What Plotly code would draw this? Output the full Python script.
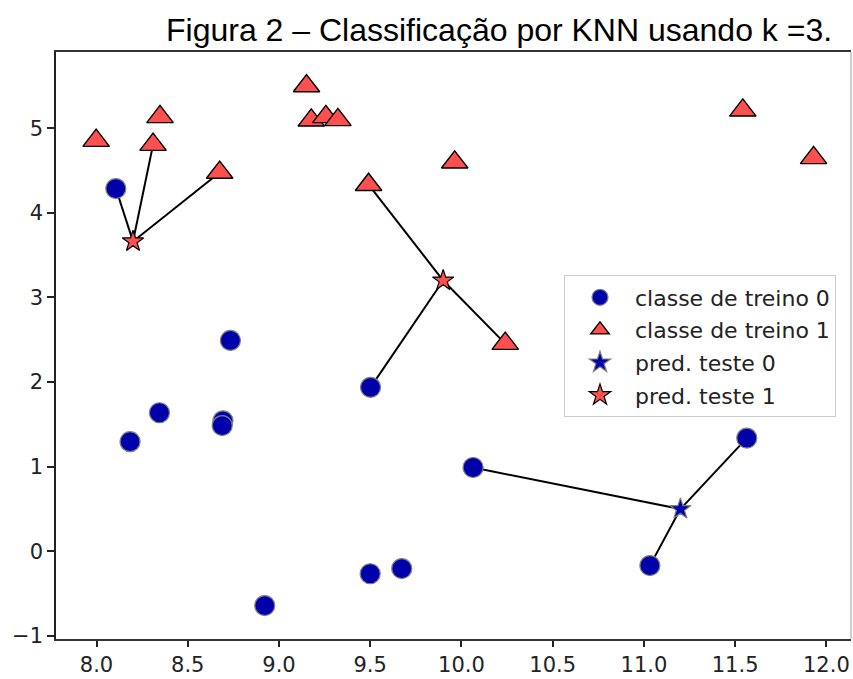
import numpy as np
import plotly.graph_objects as go

# Training data (forge dataset)
train_x = [9.963, 11.033, 11.542, 8.693, 8.106, 8.310, 11.930, 9.673, 8.348, 8.675,
           9.177, 10.240, 8.689, 8.922, 9.491, 9.257, 7.998, 8.184, 8.734, 9.323,
           10.064, 9.500, 8.345, 9.502, 9.151, 11.564]
train_y = [4.597, -0.168, 5.211, 1.543, 4.287, 4.806, 4.649, -0.203, 5.134, 4.476,
           5.093, 2.455, 1.487, -0.640, 4.332, 5.133, 4.853, 1.296, 2.492, 5.098,
           0.991, -0.264, 1.638, 1.938, 5.498, 1.339]
train_cls = [1, 0, 1, 0, 0, 1, 1, 0, 1, 1, 1, 1, 0, 0, 1, 1, 1, 0, 0, 1, 0, 0, 0, 0, 1, 0]

test_x = [8.2, 9.9, 11.2]
test_y = [3.662, 3.2, 0.5]
k_neighbors = 3

title_text = "Figura 2 – Classificação por KNN usando k =3."
legend_names = ["classe de treino 0", "classe de treino 1", "pred. teste 0", "pred. teste 1"]
x_ticks = [8.0, 8.5, 9.0, 9.5, 10.0, 10.5, 11.0, 11.5, 12.0]
y_ticks = [-1, 0, 1, 2, 3, 4, 5]

BLUE = "#0000aa"
RED = "#ff5050"

tx = np.array(train_x); ty = np.array(train_y); tc = np.array(train_cls)
qx = np.array(test_x); qy = np.array(test_y)

# neighbour lines and predictions
line_x, line_y, preds = [], [], []
for px, py in zip(qx, qy):
    d = np.hypot(tx - px, ty - py)
    nn = np.argsort(d)[:k_neighbors]
    for j in nn:
        line_x += [px, tx[j], None]
        line_y += [py, ty[j], None]
    preds.append(int(round(tc[nn].mean())))
preds = np.array(preds)

fig = go.Figure()
fig.add_trace(go.Scatter(x=line_x, y=line_y, mode="lines",
                         line=dict(color="black", width=2), showlegend=False, hoverinfo="skip"))

# test predictions (stars)
for c, col, edge, name in [(0, BLUE, "grey", legend_names[2]), (1, RED, "black", legend_names[3])]:
    m = preds == c
    fig.add_trace(go.Scatter(x=qx[m], y=qy[m], mode="markers", name=name,
                             legendgroup=name, legendrank=3 + c,
                             marker=dict(symbol="star", size=16, color=col,
                                         line=dict(color=edge, width=1.2))))

# training points
fig.add_trace(go.Scatter(x=tx[tc == 0], y=ty[tc == 0], mode="markers", name=legend_names[0],
                         legendgroup=legend_names[0], legendrank=1,
                         marker=dict(symbol="circle", size=20, color=BLUE,
                                     line=dict(color="grey", width=1.2))))
fig.add_trace(go.Scatter(x=tx[tc == 1], y=ty[tc == 1], mode="markers", name=legend_names[1],
                         legendgroup=legend_names[1], legendrank=2,
                         marker=dict(symbol="triangle-up", size=23, color=RED,
                                     line=dict(color="black", width=1.4))))

L, R, T, B = 56, 2, 52, 36
W, H = 853, 679
fig.update_layout(
    width=W, height=H,
    margin=dict(l=L, r=R, t=T, b=B),
    paper_bgcolor="white", plot_bgcolor="white",
    font=dict(family="DejaVu Sans", size=21, color="#222222"),
    showlegend=True,
    legend=dict(x=(564 - L) / (W - L - R), y=(H - B - 277) / (H - T - B),
                xanchor="left", yanchor="top",
                bgcolor="white", bordercolor="#cccccc", borderwidth=1,
                font=dict(family="DejaVu Sans", size=22, color="#222222"),
                traceorder="grouped", tracegroupgap=1, itemwidth=60),
    xaxis=dict(range=[7.778, 12.135], tickvals=x_ticks, ticktext=[f"{v:.1f}" for v in x_ticks],
               showgrid=False, zeroline=False, showline=True, linecolor="#333333", linewidth=1.5,
               mirror=True, ticks="outside", ticklen=6, tickwidth=1.5, tickcolor="#222222"),
    yaxis=dict(range=[-1.035, 5.90], tickvals=y_ticks,
               showgrid=False, zeroline=False, showline=True, linecolor="#222222", linewidth=1.5,
               mirror=False, ticks="outside", ticklen=7, tickwidth=1.5, tickcolor="#222222"),
    shapes=[dict(type="line", xref="paper", yref="paper", x0=1, x1=1, y0=0, y1=1,
                 line=dict(color="#b0b0b0", width=1.2))],
    annotations=[dict(text=title_text, xref="paper", yref="paper",
                      x=(834 - L) / (W - L - R), y=1, xanchor="right", yanchor="bottom",
                      yshift=2, showarrow=False,
                      font=dict(family="Liberation Sans", size=32, color="black"))],
)

fig.write_html("out.html")
